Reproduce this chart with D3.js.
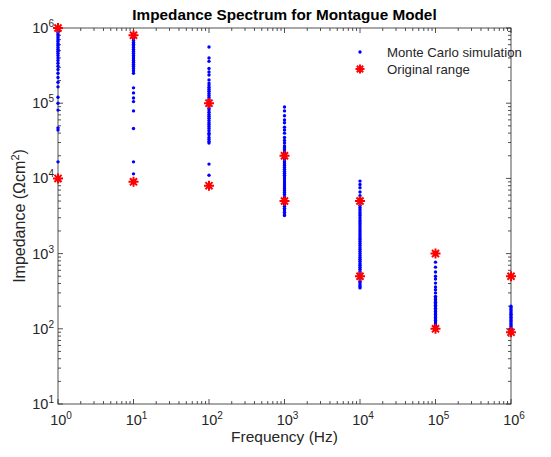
<!DOCTYPE html>
<html>
<head>
<meta charset="utf-8">
<script src="https://cdn.jsdelivr.net/npm/d3@7"></script>
<style>
body { margin:0; background:#fff; }
text { font-family: "Liberation Sans", Arial, sans-serif; fill:#262626; }
</style>
</head>
<body>
<div id="chart"></div>
<script>
// frequencies (Hz)
var freqs = [1, 10, 100, 1000, 10000, 100000, 1000000];

// Monte Carlo impedance samples at each frequency
var mc_1 = [1e6, 9.6e5, 9.1e5, 8.7e5, 8.2e5, 7.8e5, 7.4e5, 7.0e5, 6.6e5, 6.2e5, 5.9e5, 5.5e5, 5.2e5, 4.9e5, 4.6e5, 4.3e5, 4.0e5, 3.7e5, 3.4e5, 3.1e5, 2.8e5, 2.5e5, 2.2e5, 1.9e5, 1.65e5, 1.2e5, 1.0e5, 8.1e4, 4.7e4, 4.4e4, 1.66e4];
var mc_10 = [8e5, 7.6e5, 7.2e5, 6.8e5, 6.4e5, 6.1e5, 5.8e5, 5.5e5, 5.2e5, 4.9e5, 4.6e5, 4.3e5, 4.1e5, 3.9e5, 3.7e5, 3.5e5, 3.3e5, 3.1e5, 2.9e5, 2.7e5, 2.5e5, 1.6e5, 1.37e5, 1.17e5, 1.05e5, 7.9e4, 4.6e4, 1.66e4, 1.15e4];
var mc_100 = [5.6e5, 4.0e5, 3.6e5, 2.9e5, 2.6e5, 2.37e5, 2.04e5, 1.85e5, 1.74e5, 1.63e5, 1.53e5, 1.44e5, 1.35e5, 1.27e5, 1.19e5, 1.12e5, 1.05e5, 9.8e4, 9.2e4, 8.6e4, 8.1e4, 7.6e4, 7.1e4, 6.7e4, 6.3e4, 5.9e4, 5.5e4, 5.2e4, 4.9e4, 4.6e4, 4.3e4, 4.0e4, 3.8e4, 3.5e4, 3.3e4, 3.1e4, 2.95e4, 1.55e4, 1.1e4];
var mc_1k = [8.9e4, 7.9e4, 6.8e4, 6.0e4, 5.5e4, 4.8e4, 4.4e4, 4.0e4, 3.5e4, 3.2e4, 2.95e4, 2.7e4, 2.55e4, 2.4e4, 2.25e4, 2.1e4, 2.0e4, 1.88e4, 1.77e4, 1.67e4, 1.57e4, 1.48e4, 1.4e4, 1.32e4, 1.24e4, 1.17e4, 1.1e4, 1.04e4, 9.8e3, 9.2e3, 8.7e3, 8.2e3, 7.7e3, 7.3e3, 6.9e3, 6.5e3, 6.1e3, 5.7e3, 5.4e3, 5.1e3, 4.8e3, 4.5e3, 4.25e3, 4.0e3, 3.8e3, 3.55e3, 3.35e3, 3.2e3];
var mc_10k = [9.2e3, 8.3e3, 7.5e3, 6.6e3, 5.9e3, 5.4e3, 4.7e3, 4.4e3, 4.1e3, 3.85e3, 3.6e3, 3.4e3, 3.2e3, 3.0e3, 2.8e3, 2.65e3, 2.5e3, 2.35e3, 2.2e3, 2.07e3, 1.95e3, 1.84e3, 1.73e3, 1.63e3, 1.54e3, 1.45e3, 1.36e3, 1.28e3, 1.2e3, 1.13e3, 1.07e3, 1.0e3, 9.4e2, 8.9e2, 8.4e2, 7.9e2, 7.4e2, 7.0e2, 6.6e2, 6.2e2, 5.8e2, 5.5e2, 5.2e2, 4.9e2, 4.6e2, 4.3e2, 4.1e2, 3.85e2, 3.65e2, 3.5e2];
var mc_100k = [7.7e2, 6.6e2, 5.7e2, 5.0e2, 4.6e2, 4.05e2, 3.6e2, 3.3e2, 3.0e2, 2.7e2, 2.58e2, 2.46e2, 2.35e2, 2.25e2, 2.15e2, 2.05e2, 1.96e2, 1.87e2, 1.78e2, 1.7e2, 1.62e2, 1.55e2, 1.48e2, 1.41e2, 1.35e2, 1.29e2, 1.23e2, 1.17e2, 1.12e2, 1.07e2, 1.02e2];
var mc_1M = [2.0e2, 1.9e2, 1.81e2, 1.72e2, 1.64e2, 1.56e2, 1.49e2, 1.42e2, 1.35e2, 1.29e2, 1.23e2, 1.17e2, 1.12e2, 1.07e2, 1.02e2, 9.8e1];
var mc_all = [mc_1, mc_10, mc_100, mc_1k, mc_10k, mc_100k, mc_1M];

// original range (upper / lower)
var range_hi = [1e6, 8e5, 1e5, 2e4, 5e3, 1e3, 5e2];
var range_lo = [1e4, 9e3, 8e3, 5e3, 5e2, 1e2, 9e1];

var xTickExp = [0, 1, 2, 3, 4, 5, 6];
var yTickExp = [1, 2, 3, 4, 5, 6];

var width = 551, height = 457;
var margin = {left: 58, right: 40, top: 28, bottom: 53};
var blue = "#0000ff", red = "#ff0000", axisColor = "#262626";

var svg = d3.select("#chart").append("svg")
	.attr("width", width)
	.attr("height", height);

var x = d3.scaleLog().domain([1, 1e6]).range([margin.left, width - margin.right]);
var y = d3.scaleLog().domain([10, 1e6]).range([height - margin.bottom, margin.top]);

// minor tick values
var xMinor = [], yMinor = [];
for (var e = 0; e < 6; e++) for (var m = 2; m < 10; m++) xMinor.push(m * Math.pow(10, e));
for (var e = 1; e < 6; e++) for (var m = 2; m < 10; m++) yMinor.push(m * Math.pow(10, e));

var x0 = x.range()[0], x1 = x.range()[1], y0 = y.range()[0], y1 = y.range()[1];

// box
svg.append("rect")
	.attr("x", x0).attr("y", y1)
	.attr("width", x1 - x0).attr("height", y0 - y1)
	.attr("fill", "none").attr("stroke", axisColor).attr("stroke-width", 0.8);

var ticks = svg.append("g").attr("stroke", axisColor).attr("stroke-width", 0.8);
function xTick(v, len) {
	ticks.append("line").attr("x1", x(v)).attr("x2", x(v)).attr("y1", y0).attr("y2", y0 - len);
	ticks.append("line").attr("x1", x(v)).attr("x2", x(v)).attr("y1", y1).attr("y2", y1 + len);
}
function yTick(v, len) {
	ticks.append("line").attr("y1", y(v)).attr("y2", y(v)).attr("x1", x0).attr("x2", x0 + len);
	ticks.append("line").attr("y1", y(v)).attr("y2", y(v)).attr("x1", x1).attr("x2", x1 - len);
}
xTickExp.forEach(function(p){ xTick(Math.pow(10, p), 5); });
xMinor.forEach(function(v){ xTick(v, 3); });
yTickExp.forEach(function(p){ yTick(Math.pow(10, p), 5); });
yMinor.forEach(function(v){ yTick(v, 3); });

// tick labels
xTickExp.forEach(function(p){
	var t = svg.append("text")
		.attr("x", x(Math.pow(10, p)) + 3).attr("y", y0 + 21)
		.attr("text-anchor", "middle").attr("font-size", 14.5);
	t.append("tspan").text("10");
	t.append("tspan").attr("dy", -6).attr("font-size", 10).text(p);
});
yTickExp.forEach(function(p){
	var t = svg.append("text")
		.attr("x", x0 - 4).attr("y", y(Math.pow(10, p)) + 5)
		.attr("text-anchor", "end").attr("font-size", 14.5);
	t.append("tspan").text("10");
	t.append("tspan").attr("dy", -6).attr("font-size", 10).text(p);
});

// title and axis labels
svg.append("text")
	.attr("x", (x0 + x1) / 2).attr("y", 19.5)
	.attr("text-anchor", "middle").attr("font-size", 15.3).attr("font-weight", "bold")
	.style("fill", "#000")
	.text("Impedance Spectrum for Montague Model");

svg.append("text")
	.attr("x", (x0 + x1) / 2).attr("y", 442)
	.attr("text-anchor", "middle").attr("font-size", 15.5)
	.text("Frequency (Hz)");

var yl = svg.append("text")
	.attr("transform", "translate(25," + ((y0 + y1) / 2) + ") rotate(-90)")
	.attr("text-anchor", "middle").attr("font-size", 16);
yl.append("tspan").text("Impedance (\u03A9cm");
yl.append("tspan").attr("dy", -6).attr("font-size", 11).text("2");
yl.append("tspan").attr("dy", 6).text(")");

// asterisk marker path
function starPath(r) {
	var d = "";
	for (var k = 0; k < 4; k++) {
		var a = k * Math.PI / 4;
		var dx = r * Math.cos(a), dy = r * Math.sin(a);
		d += "M" + (-dx) + "," + (-dy) + "L" + dx + "," + dy;
	}
	return d;
}

// monte carlo dots
var dots = svg.append("g").attr("fill", blue);
mc_all.forEach(function(vals, i){
	dots.selectAll(null).data(vals).enter().append("circle")
		.attr("cx", x(freqs[i]))
		.attr("cy", function(d){ return y(d); })
		.attr("r", 1.7);
});

// original range stars
var stars = svg.append("g").attr("stroke", red).attr("stroke-width", 2).attr("fill", "none");
freqs.forEach(function(f, i){
	[range_hi[i], range_lo[i]].forEach(function(v){
		stars.append("path")
			.attr("transform", "translate(" + x(f) + "," + y(v) + ")")
			.attr("d", starPath(5));
	});
});

// legend
svg.append("circle").attr("cx", 360).attr("cy", 52).attr("r", 1.7).attr("fill", blue);
svg.append("text").attr("x", 387).attr("y", 56.5).attr("font-size", 13.2).text("Monte Carlo simulation");
svg.append("path").attr("transform", "translate(360,69)").attr("d", starPath(4.5))
	.attr("stroke", red).attr("stroke-width", 2).attr("fill", "none");
svg.append("text").attr("x", 387).attr("y", 73.5).attr("font-size", 13.2).text("Original range");
</script>
</body>
</html>
